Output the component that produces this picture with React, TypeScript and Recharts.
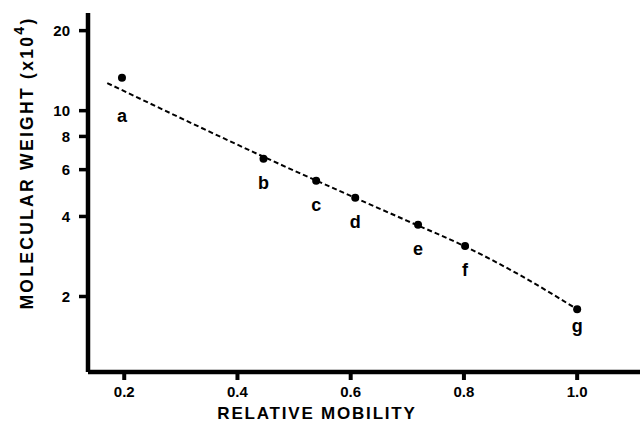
import React from 'react';
import { ComposedChart, Line, Scatter, XAxis, YAxis, Label } from 'recharts';

// standard proteins: relative mobility vs molecular weight (x10^4)
const names = ['a', 'b', 'c', 'd', 'e', 'f', 'g'];
const mobility = [0.196, 0.446, 0.539, 0.608, 0.719, 0.802, 1.0];
const weight = [13.3, 6.6, 5.45, 4.7, 3.72, 3.1, 1.79];

// dashed calibration curve
const fitMobility = [0.17, 0.45, 0.7, 0.8, 0.9, 1.0];
const fitWeight = [12.7, 6.65, 3.85, 3.1, 2.4, 1.79];

const xTicks = [0.2, 0.4, 0.6, 0.8, 1.0];
const yTicks = [2, 4, 6, 8, 10, 20];

const points = names.map((name, i) => ({ name, x: mobility[i], y: weight[i] }));
const fit = fitMobility.map((x, i) => ({ x, y: fitWeight[i] }));

const FONT = '"Liberation Sans", Arial, Helvetica, sans-serif';
// letter placement below each dot
const LABEL_GAP = 30;
const labelShift: Record<string, number> = { a: 14, g: -7 };

const Dot = (props: any) => {
  const { cx, cy, payload } = props;
  const dy = LABEL_GAP + (labelShift[payload.name] || 0);
  return (
    <g>
      <circle cx={cx} cy={cy} r={4} fill="#000" />
      <text x={cx} y={cy + dy} textAnchor="middle" fontFamily={FONT} fontWeight="bold" fontSize={18} fill="#000">
        {payload.name}
      </text>
    </g>
  );
};

const YTitle = (props: any) => {
  const { viewBox } = props;
  const cy = viewBox.y + 150;
  return (
    <text
      x={33}
      y={cy}
      transform={`rotate(-90 33 ${cy})`}
      textAnchor="middle"
      fontFamily={FONT}
      fontWeight="bold"
      fontSize={17.5}
      letterSpacing={2.3}
      fill="#000"
    >
      MOLECULAR WEIGHT  (x10
      <tspan dy={-9} fontSize={14}>4</tspan>
      <tspan dy={9}>)</tspan>
    </text>
  );
};

const tickStyle = { fontFamily: FONT, fontWeight: 'bold', fontSize: 15, fill: '#000' };

export default function App() {
  return (
    <div style={{ position: 'absolute', left: 0, top: 0, background: '#fff' }}>
      <ComposedChart width={640} height={439} margin={{ top: 13, right: 0, bottom: 0, left: 0 }}>
        <XAxis
          type="number"
          dataKey="x"
          domain={[0.136, 1.111]}
          ticks={xTicks}
          tickFormatter={(v) => v.toFixed(1)}
          allowDataOverflow
          height={67}
          axisLine={{ stroke: '#000', strokeWidth: 4.5 }}
          tickLine={{ stroke: '#000', strokeWidth: 4 }}
          tickSize={8}
          tickMargin={6}
          tick={tickStyle}
        >
          <Label
            value="RELATIVE MOBILITY"
            position="insideBottom"
            dx={-47}
            offset={20}
            style={{ fontFamily: FONT, fontWeight: 'bold', fontSize: 17, letterSpacing: 1.8, fill: '#000' }}
          />
        </XAxis>
        <YAxis
          type="number"
          dataKey="y"
          scale="log"
          domain={[1.04, 23.3]}
          ticks={yTicks}
          allowDataOverflow
          width={88}
          axisLine={{ stroke: '#000', strokeWidth: 4.5 }}
          tickLine={{ stroke: '#000', strokeWidth: 3.5 }}
          tickSize={9}
          tickMargin={9}
          tick={tickStyle}
        >
          <Label content={YTitle} />
        </YAxis>
        <Line
          data={fit}
          dataKey="y"
          type="monotone"
          stroke="#000"
          strokeWidth={2}
          strokeDasharray="5 3"
          dot={false}
          activeDot={false}
          isAnimationActive={false}
        />
        <Scatter data={points} dataKey="y" shape={Dot} isAnimationActive={false} />
      </ComposedChart>
    </div>
  );
}
